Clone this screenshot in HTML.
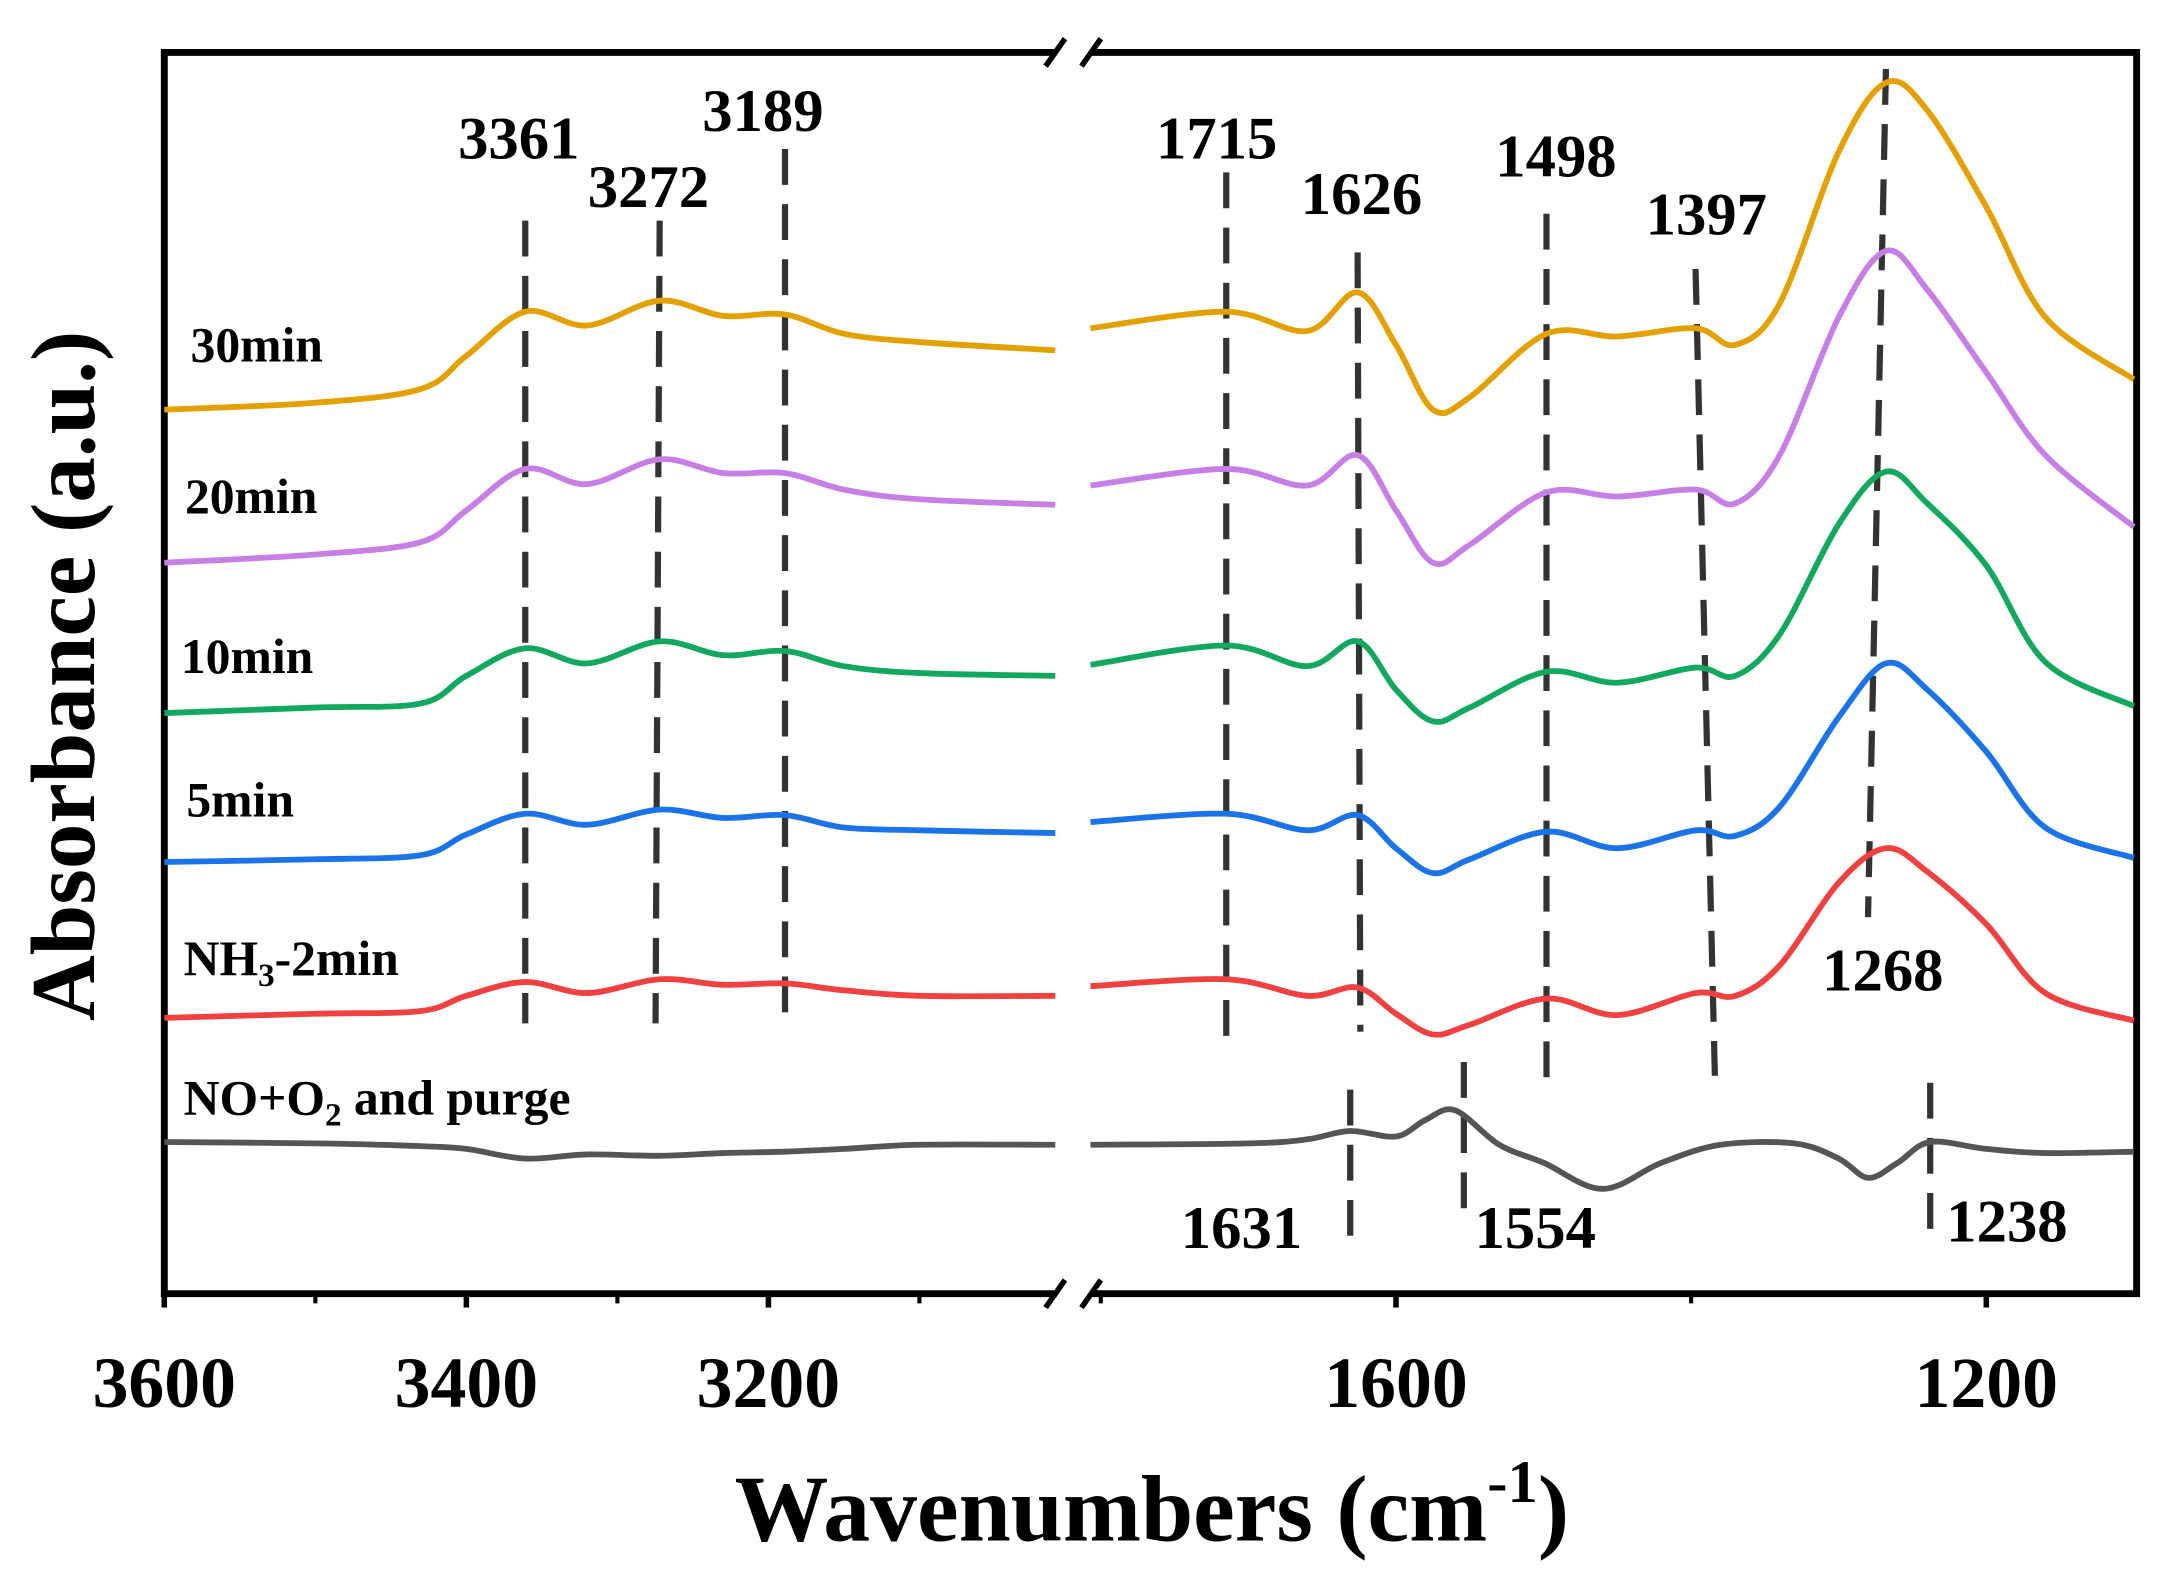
<!DOCTYPE html>
<html><head><meta charset="utf-8">
<style>
html,body{margin:0;padding:0;background:#fff;}
svg{display:block;}
text{font-family:"Liberation Serif",serif;font-weight:bold;fill:#000;}
</style></head>
<body>
<svg id="chart" width="2163" height="1582" viewBox="0 0 1568 1147" xmlns="http://www.w3.org/2000/svg">
<g id="frame" stroke="#000" stroke-width="5" fill="none">
  <polyline points="766,38 119,38 119,938 766,938"/>
  <polyline points="790,38 1549,38 1549,938 790,938"/>
  <line x1="758" y1="48" x2="772" y2="28" stroke-width="4"/>
  <line x1="784" y1="48" x2="798" y2="28" stroke-width="4"/>
  <line x1="758" y1="948" x2="772" y2="928" stroke-width="4"/>
  <line x1="784" y1="948" x2="798" y2="928" stroke-width="4"/>
</g>
<g id="ticks"></g>
<g id="dashes"></g>
<g id="series"></g>
<g id="labels"></g>
<text x="835" y="1117" font-size="68" text-anchor="middle">Wavenumbers (cm<tspan font-size="44" dy="-28">-1</tspan><tspan dy="28">)</tspan></text>
<text transform="translate(68,490) rotate(-90)" font-size="66" text-anchor="middle">Absorbance (a.u.)</text>
</svg>
<script>
// ---- data ----
const seriesNames = ["30min","20min","10min","5min","NH3-2min","NO+O2 and purge"];
const seriesColors = ["#e3a100","#c77fe6","#12a85f","#1a73e8","#f04040","#555555"];
const leftWn = [3600,3500,3430,3400,3361,3320,3272,3230,3189,3150,3100,3010];
const s30L = [6.41,6.46,6.56,6.80,7.12,7.02,7.20,7.09,7.10,6.96,6.90,6.84];
const s20L = [5.30,5.36,5.45,5.68,5.98,5.87,6.05,5.95,5.95,5.83,5.76,5.72];
const s10L = [4.21,4.25,4.28,4.48,4.68,4.57,4.73,4.63,4.66,4.55,4.50,4.48];
const s5L  = [3.13,3.15,3.18,3.33,3.48,3.40,3.51,3.45,3.47,3.38,3.36,3.34];
const s2L  = [2.00,2.03,2.05,2.16,2.26,2.18,2.28,2.24,2.25,2.20,2.16,2.16];
const s0L  = [1.10,1.09,1.07,1.05,0.98,1.01,1.00,1.02,1.03,1.05,1.08,1.08];
const rightWn30 = [1807,1715,1660,1626,1600,1575,1550,1498,1450,1397,1370,1340,1300,1268,1240,1200,1160,1100];
const s30R = [7.00,7.12,6.98,7.26,6.88,6.41,6.50,6.96,6.94,7.00,6.88,7.18,8.28,8.78,8.58,7.88,7.08,6.63];
const s20R = [5.86,5.98,5.86,6.08,5.68,5.30,5.43,5.81,5.78,5.83,5.73,6.08,7.08,7.56,7.28,6.68,6.08,5.56];
const s10R = [4.56,4.70,4.55,4.73,4.38,4.15,4.25,4.51,4.43,4.54,4.48,4.78,5.58,5.96,5.73,5.28,4.58,4.26];
const s5R  = [3.42,3.48,3.36,3.47,3.23,3.05,3.15,3.35,3.23,3.36,3.32,3.53,4.18,4.57,4.38,3.93,3.38,3.16];
const s2R  = [2.23,2.28,2.16,2.22,2.03,1.88,1.95,2.14,2.02,2.18,2.16,2.38,2.98,3.23,3.06,2.68,2.18,1.98];
const rightWn0 = [1807,1700,1660,1631,1600,1580,1560,1530,1500,1460,1420,1380,1330,1300,1280,1260,1238,1200,1160,1100];
const s0R  = [1.08,1.09,1.12,1.18,1.14,1.26,1.33,1.08,0.95,0.76,0.95,1.08,1.09,0.98,0.84,0.95,1.10,1.05,1.02,1.03];
const peakWn = [3361,3272,3189,1715,1626,1498,1397,1268,1631,1554,1238];
const peakLabels = ["3361","3272","3189","1715","1626","1498","1397","1268","1631","1554","1238"];
const tickLabels = ["3600","3400","3200","1600","1200"];
const tickWn = [3600,3400,3200,1600,1200];
const minorWn = [3500,3300,3100,1800,1400];

// ---- axes ----
const xL = w => 119 + (3600 - w) * 1.095;
const xR = w => 1012 + (1600 - w) * 1.07;
const xAny = w => w > 2500 ? xL(w) : xR(w);
const yS = a => 938 - a * 100;
const NS = "http://www.w3.org/2000/svg";

function smoothPath(pts){
  let d = "M" + pts[0][0].toFixed(1) + "," + pts[0][1].toFixed(1);
  for (let i = 0; i < pts.length - 1; i++){
    const p0 = pts[i-1] || pts[i], p1 = pts[i], p2 = pts[i+1], p3 = pts[i+2] || p2;
    const c1x = p1[0] + (p2[0]-p0[0])/6, c1y = p1[1] + (p2[1]-p0[1])/6;
    const c2x = p2[0] - (p3[0]-p1[0])/6, c2y = p2[1] - (p3[1]-p1[1])/6;
    d += " C" + c1x.toFixed(1)+","+c1y.toFixed(1)+" "+c2x.toFixed(1)+","+c2y.toFixed(1)+" "+p2[0].toFixed(1)+","+p2[1].toFixed(1);
  }
  return d;
}

const sg = document.getElementById("series");
const leftVals = [s30L,s20L,s10L,s5L,s2L,s0L];
const rightVals = [s30R,s20R,s10R,s5R,s2R,s0R];
for (let k = 0; k < 6; k++){
  const rWn = k === 5 ? rightWn0 : rightWn30;
  const lp = document.createElementNS(NS,"path");
  lp.setAttribute("d", smoothPath(leftWn.map((w,i)=>[xL(w), yS(leftVals[k][i])])));
  lp.setAttribute("fill","none"); lp.setAttribute("stroke",seriesColors[k]); lp.setAttribute("stroke-width","4.2");
  
  
  sg.appendChild(lp);
  const rp = document.createElementNS(NS,"path");
  rp.setAttribute("d", smoothPath(rWn.map((w,i)=>[xR(w), yS(rightVals[k][i])])));
  rp.setAttribute("fill","none"); rp.setAttribute("stroke",seriesColors[k]); rp.setAttribute("stroke-width","4.2");
  
  
  sg.appendChild(rp);
}

const dashSpan = [[160,742,0],[160,742,-3],[108,742,0],[125,752,0],[183,748,2],[155,782,0],[195,780,14],[50,665,-13],[790,910,0],[770,890,0],[785,905,0]];
const labelPos = [[376,115],[470,150],[553,95],[882,115],[987,155],[1128,128],[1237,170],[1365,718],[900,905],[1113,905],[1455,900]];
const dg = document.getElementById("dashes");
const lg = document.getElementById("labels");
for (let i = 0; i < peakWn.length; i++){
  const x = xAny(peakWn[i]);
  const ln = document.createElementNS(NS,"line");
  ln.setAttribute("x1",x); ln.setAttribute("x2",x+dashSpan[i][2]);
  ln.setAttribute("y1",dashSpan[i][0]); ln.setAttribute("y2",dashSpan[i][1]);
  ln.setAttribute("stroke","#333"); ln.setAttribute("stroke-width","4.5"); ln.setAttribute("stroke-dasharray","26,14");
  
  
  dg.appendChild(ln);
  const t = document.createElementNS(NS,"text");
  t.setAttribute("x",labelPos[i][0]); t.setAttribute("y",labelPos[i][1]);
  t.setAttribute("font-size","44"); t.setAttribute("text-anchor","middle");
  t.textContent = peakLabels[i];
  
  
  lg.appendChild(t);
}

const sLabelPos = [[138,262],[134,372],[131,488],[135,592],[133,707],[133,808]];
for (let k = 0; k < 6; k++){
  const t = document.createElementNS(NS,"text");
  t.setAttribute("x",sLabelPos[k][0]); t.setAttribute("y",sLabelPos[k][1]);
  t.setAttribute("font-size","36");
  if (k === 4){ t.innerHTML = 'NH<tspan font-size="24" dy="8">3</tspan><tspan dy="-8">-2min</tspan>'; }
  else if (k === 5){ t.innerHTML = 'NO+O<tspan font-size="24" dy="8">2</tspan><tspan dy="-8"> and purge</tspan>'; }
  else t.textContent = seriesNames[k];
  
  
  lg.appendChild(t);
}

const tg = document.getElementById("ticks");
for (let i = 0; i < tickWn.length; i++){
  const x = xAny(tickWn[i]);
  const ln = document.createElementNS(NS,"line");
  ln.setAttribute("x1",x); ln.setAttribute("x2",x); ln.setAttribute("y1",938); ln.setAttribute("y2",948);
  ln.setAttribute("stroke","#000"); ln.setAttribute("stroke-width","4");
  
  
  tg.appendChild(ln);
  const t = document.createElementNS(NS,"text");
  t.setAttribute("x",x); t.setAttribute("y",1020); t.setAttribute("font-size","52"); t.setAttribute("text-anchor","middle");
  t.textContent = tickLabels[i];
  
  
  tg.appendChild(t);
}
for (let i = 0; i < minorWn.length; i++){
  const x = xAny(minorWn[i]);
  const ln = document.createElementNS(NS,"line");
  ln.setAttribute("x1",x); ln.setAttribute("x2",x); ln.setAttribute("y1",938); ln.setAttribute("y2",945);
  ln.setAttribute("stroke","#000"); ln.setAttribute("stroke-width","3");
  
  
  tg.appendChild(ln);
}
</script>
</body></html>
